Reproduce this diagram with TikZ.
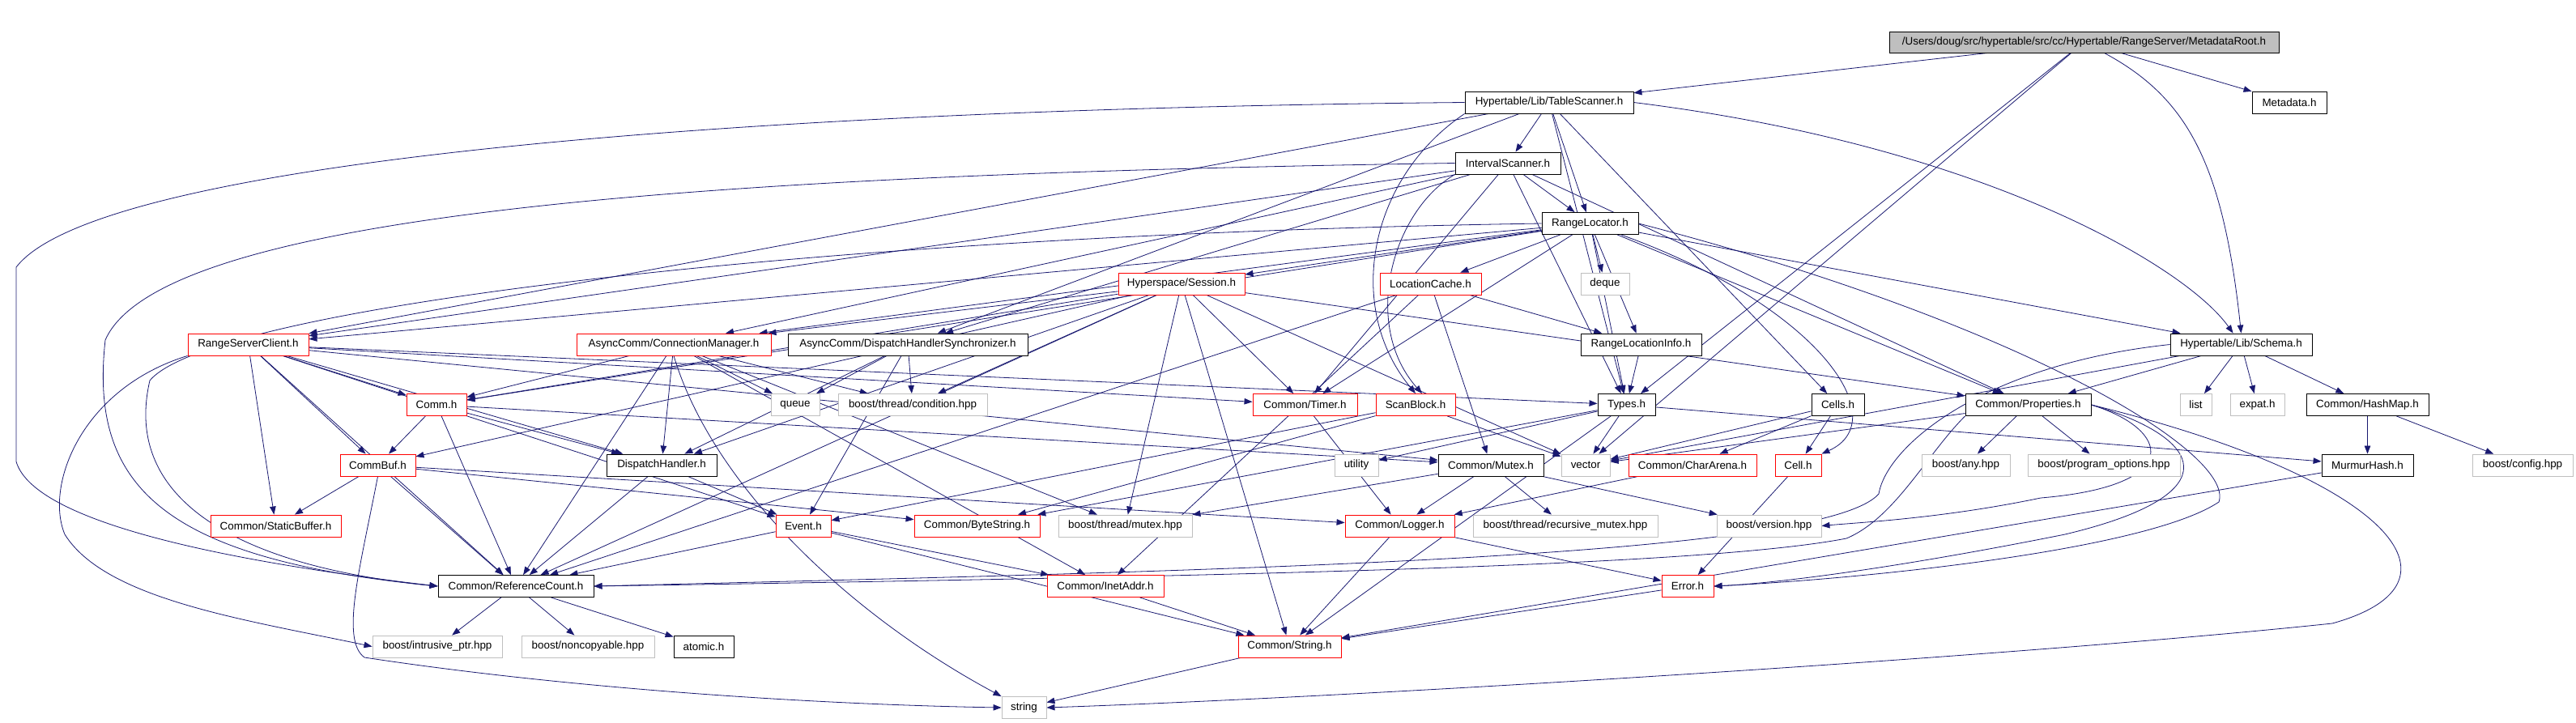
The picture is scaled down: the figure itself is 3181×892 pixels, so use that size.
\documentclass[tikz,border=0pt]{standalone}
\usepackage{fontspec}
\setmainfont{Liberation Sans}
\usetikzlibrary{arrows.meta, backgrounds}
\definecolor{edgeblue}{RGB}{25,25,112}
\definecolor{frameg}{RGB}{191,191,191}

\begin{document}
\begin{tikzpicture}[x=1pt, y=-1pt, font=\fontsize{13.4}{16}\selectfont,
        hdr/.style={draw, rectangle, fill=white, line width=0.9pt, minimum height=27pt, inner sep=0pt},
        blk/.style={hdr, draw=black},
        trunc/.style={hdr, draw=red},
        sysh/.style={hdr, draw=frameg},
        rootbox/.style={hdr, draw=black, fill=frameg},
        dep/.style={draw=edgeblue, line width=0.8pt, -{Triangle[length=10pt, width=7.5pt]}}]
        \useasboundingbox (0,0) rectangle (3181,892);

        \node[rootbox, minimum width=481pt, minimum height=26pt] (root) at (2573.5,52) {/Users/doug/src/hypertable/src/cc/Hypertable/RangeServer/MetadataRoot.h};
        \node[blk, minimum width=92pt] (meta) at (2827,126.5) {Metadata.h};
        \node[blk, minimum width=208pt] (ts) at (1913,126.5) {Hypertable/Lib/TableScanner.h};
        \node[blk, minimum width=130pt] (is) at (1862,201.5) {IntervalScanner.h};
        \node[blk, minimum width=119pt] (rl) at (1963.5,276) {RangeLocator.h};
        \node[trunc, minimum width=156pt] (sess) at (1459,350.5) {Hyperspace/Session.h};
        \node[trunc, minimum width=125pt] (lc) at (1766.5,350.5) {LocationCache.h};
        \node[sysh, minimum width=60pt] (deque) at (1982,350.5) {deque};
        \node[trunc, minimum width=149pt] (rsc) at (306.5,425.5) {RangeServerClient.h};
        \node[trunc, minimum width=240pt] (cm) at (832,425.5) {AsyncComm/ConnectionManager.h};
        \node[blk, minimum width=296pt] (dhs) at (1121,425.5) {AsyncComm/DispatchHandlerSynchronizer.h};
        \node[blk, minimum width=149pt] (rli) at (2026.5,425.5) {RangeLocationInfo.h};
        \node[blk, minimum width=175pt] (schema) at (2767.5,425.5) {Hypertable/Lib/Schema.h};
        \node[trunc, minimum width=74pt] (comm) at (539,500) {Comm.h};
        \node[sysh, minimum width=60pt] (queue) at (982,500) {queue};
        \node[sysh, minimum width=184pt] (cond) at (1127,500) {boost/thread/condition.hpp};
        \node[trunc, minimum width=129pt] (timer) at (1611.5,500) {Common/Timer.h};
        \node[trunc, minimum width=98pt] (scan) at (1748,500) {ScanBlock.h};
        \node[blk, minimum width=71pt] (types) at (2008.5,500) {Types.h};
        \node[blk, minimum width=65pt] (cells) at (2269.5,500) {Cells.h};
        \node[blk, minimum width=155pt] (props) at (2504.5,500) {Common/Properties.h};
        \node[sysh, minimum width=39pt] (list) at (2711.5,500) {list};
        \node[sysh, minimum width=67pt] (expat) at (2787.5,500) {expat.h};
        \node[blk, minimum width=151pt] (hashmap) at (2923.5,500) {Common/HashMap.h};
        \node[trunc, minimum width=93pt] (commbuf) at (466.5,574.5) {CommBuf.h};
        \node[blk, minimum width=136pt] (dh) at (817,574.5) {DispatchHandler.h};
        \node[sysh, minimum width=54pt] (utility) at (1675,574.5) {utility};
        \node[blk, minimum width=130pt] (mutex) at (1841,574.5) {Common/Mutex.h};
        \node[sysh, minimum width=60pt] (vector) at (1958,574.5) {vector};
        \node[trunc, minimum width=158pt] (arena) at (2090,574.5) {Common/CharArena.h};
        \node[trunc, minimum width=57pt] (cell) at (2220.5,574.5) {Cell.h};
        \node[sysh, minimum width=109pt] (any) at (2427.5,574.5) {boost/any.hpp};
        \node[sysh, minimum width=188pt] (popts) at (2598,574.5) {boost/program\_options.hpp};
        \node[blk, minimum width=113pt] (murmur) at (2923.5,574.5) {MurmurHash.h};
        \node[sysh, minimum width=124pt] (config) at (3115,574.5) {boost/config.hpp};
        \node[trunc, minimum width=161pt] (sbuf) at (340.5,649.5) {Common/StaticBuffer.h};
        \node[trunc, minimum width=68pt] (event) at (992,649.5) {Event.h};
        \node[trunc, minimum width=155pt] (bytestr) at (1206.5,649.5) {Common/ByteString.h};
        \node[sysh, minimum width=165pt] (bmutex) at (1389.5,649.5) {boost/thread/mutex.hpp};
        \node[trunc, minimum width=135pt] (logger) at (1728.5,649.5) {Common/Logger.h};
        \node[sysh, minimum width=228pt] (rmutex) at (1933,649.5) {boost/thread/recursive\_mutex.hpp};
        \node[sysh, minimum width=129pt] (version) at (2184.5,649.5) {boost/version.hpp};
        \node[blk, minimum width=192pt] (refcnt) at (637,724) {Common/ReferenceCount.h};
        \node[trunc, minimum width=144pt] (inet) at (1365,724) {Common/InetAddr.h};
        \node[trunc, minimum width=64pt] (error) at (2084,724) {Error.h};
        \node[sysh, minimum width=160pt] (iptr) at (540,798.5) {boost/intrusive\_ptr.hpp};
        \node[sysh, minimum width=164pt] (noncopy) at (726,798.5) {boost/noncopyable.hpp};
        \node[blk, minimum width=74pt] (atomic) at (869,798.5) {atomic.h};
        \node[trunc, minimum width=127pt] (cstr) at (1592.5,798.5) {Common/String.h};
        \node[sysh, minimum width=55pt] (string) at (1264.5,874) {string};

        \begin{scope}[on background layer]
            \foreach \a/\b in {root/ts, root/meta, root/types, root/vector,
                    ts/is, ts/rl, ts/rsc, ts/dhs, ts/cells, ts/types,
                    is/rl, is/rsc, is/dhs, is/types, is/props, is/cm, is/timer,
                    rl/sess, rl/lc, rl/deque, rl/rli, rl/schema, rl/rsc, rl/cm, rl/comm, rl/types, rl/props, rl/timer,
                    sess/cm, sess/comm, sess/commbuf, sess/refcnt, sess/cond, sess/bmutex, sess/cstr, sess/timer, sess/vector, sess/props, sess/dh,
                    lc/rli, lc/mutex, lc/inet, lc/refcnt, rli/types,
                    rsc/comm, rsc/commbuf, rsc/sbuf, rsc/refcnt, rsc/dh, rsc/types, rsc/timer, rsc/mutex, rsc/event,
                    cm/comm, cm/dh, cm/queue, cm/cond, cm/refcnt, cm/inet, cm/bmutex,
                    dhs/queue, dhs/cond, dhs/dh, dhs/event,
                    comm/commbuf, comm/dh, comm/refcnt, comm/mutex,
                    commbuf/sbuf, commbuf/refcnt, commbuf/bytestr, commbuf/logger,
                    dh/event, dh/refcnt, event/refcnt, event/inet, event/cstr,
                    scan/bytestr, scan/event, scan/vector, timer/logger,
                    types/utility, types/vector, types/bytestr, types/murmur, types/cstr,
                    cells/arena, cells/cell, cells/vector, arena/logger, cell/error,
                    mutex/logger, mutex/bmutex, mutex/rmutex, mutex/version,
                    logger/cstr, logger/error, error/cstr, inet/cstr,
                    props/any, props/popts, props/vector,
                    schema/props, schema/list, schema/expat, schema/hashmap, schema/vector,
                    hashmap/murmur, hashmap/config, murmur/cstr, cstr/string,
                    refcnt/iptr, refcnt/noncopy, refcnt/atomic} {
                \draw[dep] (\a) -- (\b);
            }
            \draw[dep] (root) .. controls (2700,120) and (2745,200) .. (schema.north);
            \draw[dep] (ts.east) .. controls (2450,180) and (2700,330) .. ([xshift=-10pt]schema.north);
            \draw[dep] (ts.south west) .. controls (1690,220) and (1660,380) .. (scan.north);
            \draw[dep] (is.south west) .. controls (1720,260) and (1680,400) .. ([xshift=8pt]scan.north);
            \draw[dep] (ts.west) .. controls (900,135) and (120,200) .. (20,330) -- (20,570) .. controls (40,640) and (250,690) .. (refcnt.west);
            \draw[dep] (is.west) .. controls (900,215) and (200,260) .. (130,420) .. controls (110,600) and (200,690) .. (refcnt.west);
            \draw[dep] (rl.west) .. controls (1000,290) and (260,380) .. (185,470) .. controls (150,620) and (300,700) .. (refcnt.west);
            \draw[dep] (rsc.south west) .. controls (100,480) and (55,600) .. (80,660) .. controls (130,740) and (300,765) .. (iptr.west);
            \draw[dep] (commbuf.south) .. controls (445,700) and (420,790) .. (450,812) .. controls (700,850) and (1000,870) .. (string.west);
            \draw[dep] (cm.south) .. controls (880,600) and (1050,760) .. (string.north west);
            \draw[dep] (rl) .. controls (2250,380) and (2340,520) .. (cell.north east);
            \draw[dep] (rl.east) .. controls (2500,400) and (2760,560) .. (2740,620) .. controls (2650,680) and (2300,715) .. (error.east);
            \draw[dep] (props.east) .. controls (2950,590) and (3060,720) .. (2880,770) .. controls (2500,810) and (1700,860) .. (string.east);
            \draw[dep] (props.east) .. controls (2720,540) and (2760,610) .. (2550,660) .. controls (2350,700) and (2200,720) .. (error.east);
            \draw[dep] (props.east) .. controls (2680,530) and (2700,600) .. (2520,615) .. controls (2400,640) and (2300,645) .. (version.east);
            \draw[dep] (props.south west) .. controls (2380,560) and (2340,640) .. (2280,665) .. controls (2100,700) and (1500,712) .. (refcnt.east);
            \draw[dep] (schema.west) .. controls (2450,450) and (2330,550) .. (2320,610) .. controls (2250,690) and (1500,705) .. (refcnt.east);
        \end{scope}
    \end{tikzpicture}
\end{document}
